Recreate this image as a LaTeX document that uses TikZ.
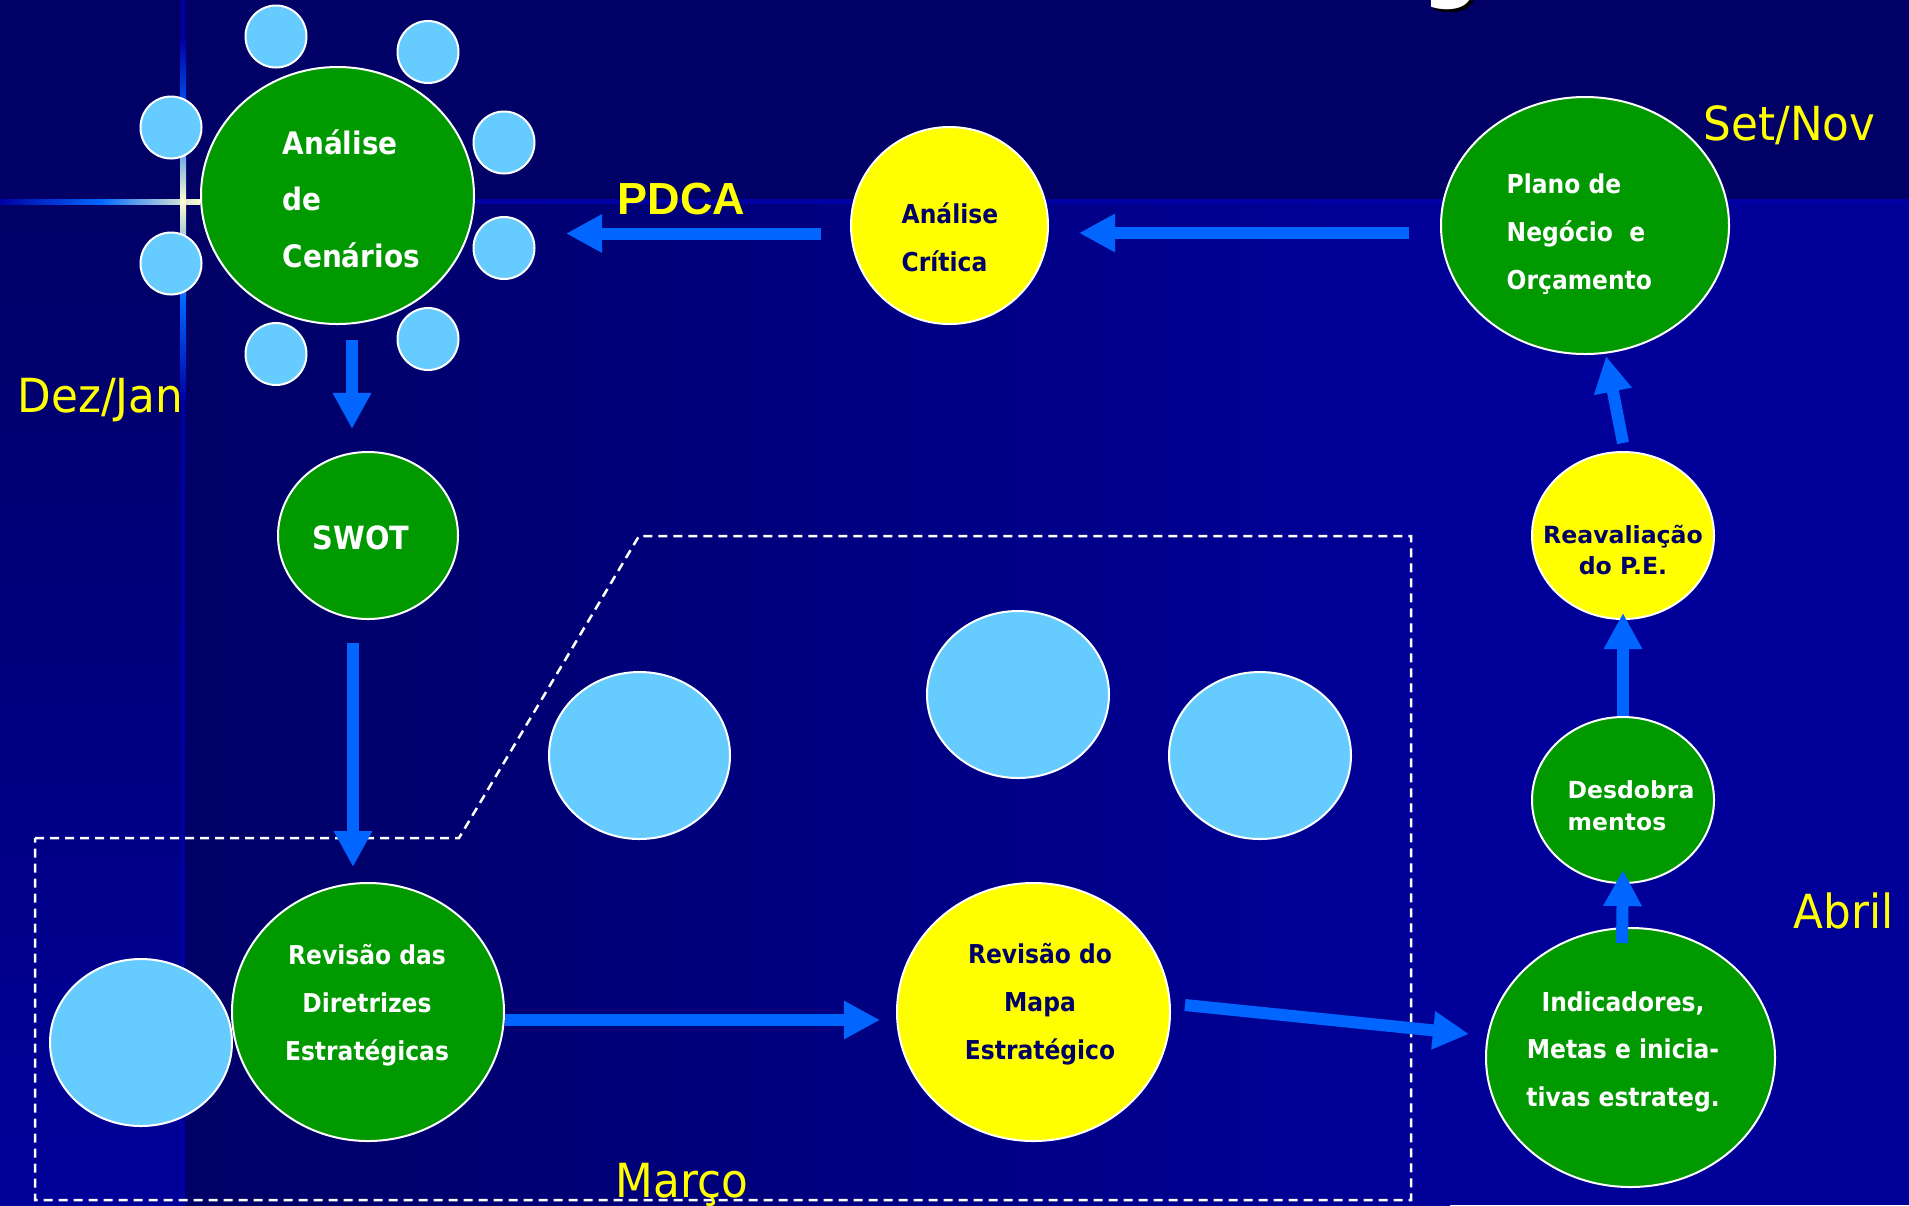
\documentclass[tikz,border=0pt]{standalone}
\usepackage{fontspec}
\setmainfont{DejaVu Sans}
\newfontfamily\bolhafont[FakeStretch=0.9]{DejaVu Sans}
\newfontfamily\mesfont[FakeStretch=0.93]{DejaVu Sans}
\newfontfamily\pdcafont{Liberation Sans}
\usetikzlibrary{shapes.geometric,arrows.meta}

\newlength{\du}
\setlength{\du}{0.01cm}

\definecolor{fundoescuro}{RGB}{0,0,102}
\definecolor{fundoclaro}{RGB}{0,0,153}
\definecolor{linhaazul}{RGB}{0,0,165}
\definecolor{setaazul}{RGB}{0,102,255}
\definecolor{verde}{RGB}{0,153,0}
\definecolor{amarelo}{RGB}{255,255,0}
\definecolor{celeste}{RGB}{102,204,255}
\definecolor{marinho}{RGB}{0,0,102}
\definecolor{brilho}{RGB}{255,255,204}

\tikzset{
  eixos/.style 2 args={minimum width=#1\du, minimum height=#2\du},
  bolha/.style={ellipse, draw=white, line width=2\du, inner sep=0pt},
  bolhaverde/.style={bolha, fill=verde},
  bolhaamarela/.style={bolha, fill=amarelo},
  bolhaceleste/.style={bolha, fill=celeste},
  seta/.style={draw=setaazul, line width=12\du, -{Triangle[width=0.36cm,length=0.36cm]}},
  mes/.style={anchor=base west, inner sep=0pt, text=amarelo,
    font=\mesfont\fontsize{47\du}{56\du}\selectfont},
  txtbranco/.style={inner sep=0pt, text=white},
  txtmarinho/.style={inner sep=0pt, text=marinho},
}

\begin{document}
\begin{tikzpicture}[x=1\du, y=-1\du]
\useasboundingbox (0,0) rectangle (1909,1205);
% fundo
\fill[fundoescuro] (0,0) rectangle (1909,200);
\fill[top color=fundoescuro, bottom color=fundoclaro] (0,200) rectangle (183,1205);
\fill[left color=fundoescuro, right color=fundoclaro] (183,200) rectangle (1450,1205);
\fill[fundoclaro] (1450,200) rectangle (1909,1205);
\fill[linhaazul] (0,199) rectangle (1909,204);
\fill[linhaazul] (181,0) rectangle (185,1205);
% brilho da cruz (middle color depois de left/right)
\fill[left color=linhaazul, right color=brilho, middle color=setaazul] (0,199) rectangle (200,204);
\fill[top color=linhaazul, bottom color=brilho, middle color=setaazul] (180,40) rectangle (186,201);
\fill[top color=brilho, bottom color=linhaazul, middle color=setaazul] (180,201) rectangle (186,400);

% titulo (cortado)
\node[anchor=base west, inner sep=0pt, text=black, font=\bfseries\fontsize{80\du}{90\du}\selectfont] (tituloS) at (1425,-5) {g};
\node[anchor=base west, inner sep=0pt, text=white, font=\bfseries\fontsize{80\du}{90\du}\selectfont] (titulo) at (1422,-8) {g};

% area de marco
\draw[white, line width=2.5\du, dash pattern=on 9\du off 6\du]
  (35,838) -- (459,838) -- (639,536) -- (1411,536) -- (1411,1200) -- (35,1200) -- cycle;

% bolhas
\node[bolhaverde, eixos={273}{257}] (cen) at (337.5,195.5) {};
\foreach \n/\x/\y in {1/276/36.5, 2/428/52, 3/171/127.5, 4/504/142.5,
                      5/171/263.5, 6/504/248, 7/276/354, 8/428/339}
  \node[bolhaceleste, eixos={61}{62}] (sat\n) at (\x,\y) {};
\node[bolhaamarela, eixos={197}{197}] (crit) at (949.5,225.5) {};
\node[bolhaverde, eixos={288}{257}] (plano) at (1585,225.5) {};
\node[bolhaverde, eixos={180}{167}] (swot) at (368,535.5) {};
\node[bolhaverde, eixos={272}{258}] (dir) at (368,1012) {};
\node[bolhaamarela, eixos={273}{258}] (mapa) at (1033.5,1012) {};
\node[bolhaverde, eixos={289}{259}] (ind) at (1630.5,1057.5) {};
\node[bolhaverde, eixos={182}{166}] (des) at (1623,800) {};
\node[bolhaamarela, eixos={182}{167}] (rea) at (1623,535.5) {};
\node[bolhaceleste, eixos={181}{167}] (vazio1) at (639.5,755.5) {};
\node[bolhaceleste, eixos={182}{167}] (vazio2) at (1018,694.5) {};
\node[bolhaceleste, eixos={182}{167}] (vazio3) at (1260,755.5) {};
\node[bolhaceleste, eixos={182}{167}] (vazio4) at (141,1042.5) {};

% textos das bolhas (ancorados na linha de base da ultima linha)
\node[txtbranco, align=left, anchor=base west, font=\bolhafont\bfseries\fontsize{31\du}{56.5\du}\selectfont]
  (cenT) at (282,267) {Análise\\de\\Cenários};
\node[txtmarinho, align=left, anchor=base west, font=\bolhafont\bfseries\fontsize{26\du}{48\du}\selectfont]
  (critT) at (901,271) {Análise\\Crítica};
\node[txtbranco, align=left, anchor=base west, font=\bolhafont\bfseries\fontsize{26\du}{48\du}\selectfont]
  (planoT) at (1506,289) {Plano de\\Negócio\ \ e\\Orçamento};
\node[txtbranco, anchor=base, font=\bolhafont\bfseries\fontsize{32\du}{40\du}\selectfont]
  (swotT) at (361,549) {SWOT};
\node[txtbranco, align=center, anchor=base, font=\bolhafont\bfseries\fontsize{26\du}{48\du}\selectfont]
  (dirT) at (367,1060) {Revisão das\\Diretrizes\\Estratégicas};
\node[txtmarinho, align=center, anchor=base, font=\bolhafont\bfseries\fontsize{26\du}{48\du}\selectfont]
  (mapaT) at (1040,1059) {Revisão do\\Mapa\\Estratégico};
\node[txtbranco, align=center, anchor=base, font=\bolhafont\bfseries\fontsize{26\du}{47.5\du}\selectfont]
  (indT) at (1623,1106) {Indicadores,\\Metas e inicia-\\tivas estrateg.};
\node[txtbranco, align=left, anchor=base west, font=\bfseries\fontsize{23.5\du}{32\du}\selectfont]
  (desT) at (1567,830) {Desdobra\\mentos};
\node[txtmarinho, align=center, anchor=base, font=\bfseries\fontsize{23.6\du}{31\du}\selectfont]
  (reaT) at (1623,574) {Reavaliação\\do P.E.};

% rotulos
\node[anchor=base west, inner sep=0pt, text=amarelo, font=\pdcafont\bfseries\fontsize{45\du}{54\du}\selectfont]
  (pdca) at (617,214) {PDCA};
\node[mes] (dezjan) at (17,412) {Dez/Jan};
\node[mes] (setnov) at (1703,140) {Set/Nov};
\node[mes] (abril) at (1793,928) {Abril};
\node[mes] (marco) at (615,1197) {Março};

% setas
\draw[seta] ([xshift=-31\du,yshift=-7.5\du]plano.west) -- ([xshift=30\du,yshift=-7.5\du]crit.east);
\draw[seta] ([xshift=-29\du,yshift=-8\du]crit.west) -- ([xshift=91\du,yshift=-38\du]cen.east);
\draw[seta] ([xshift=14.5\du,yshift=-15\du]cen.south) -- ([xshift=-16\du,yshift=22\du]swot.north);
\draw[seta] ([xshift=-15\du,yshift=-23\du]swot.south) -- ([xshift=-15\du,yshift=15\du]dir.north);
\draw[seta] ([yshift=-8\du]dir.east) -- ([xshift=-16\du,yshift=-8\du]mapa.west);
\draw[seta] ([xshift=14\du,yshift=7\du]mapa.east) -- ([xshift=-16\du,yshift=23.5\du]ind.west);
\draw[seta] ([xshift=-8.5\du,yshift=-16\du]ind.north) -- ([yshift=14\du]des.south);
\draw[seta] (des.north) -- ([yshift=7\du]rea.south);
\draw[seta] ([yshift=8\du]rea.north) -- ([xshift=21\du,yshift=-1\du]plano.south);
\end{tikzpicture}
\end{document}
